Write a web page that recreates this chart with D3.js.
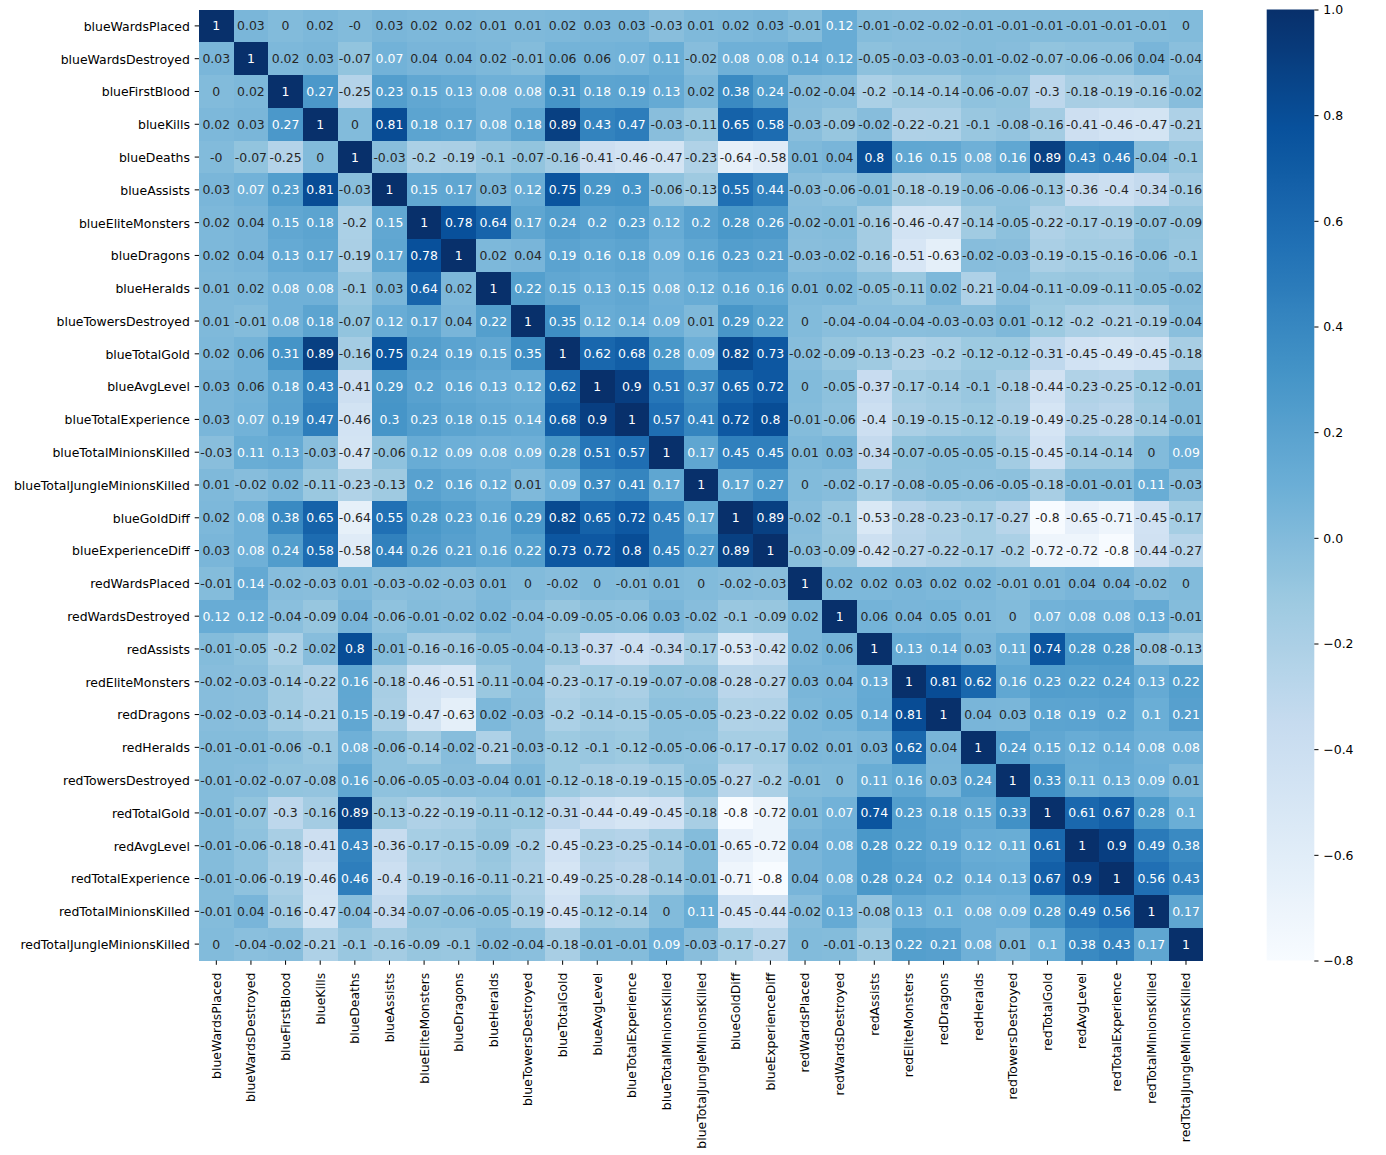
<!DOCTYPE html>
<html>
<head>
<meta charset="utf-8">
<script src="https://cdn.jsdelivr.net/npm/d3@7"></script>
<style>
  body { margin: 0; background: #fff; }
  text { font-family: "DejaVu Sans", sans-serif; }
</style>
</head>
<body>
<svg id="chart" width="1386" height="1155"></svg>
<script>
// ---------------- data ----------------
const variables = [
  "blueWardsPlaced", "blueWardsDestroyed", "blueFirstBlood", "blueKills", "blueDeaths",
  "blueAssists", "blueEliteMonsters", "blueDragons", "blueHeralds", "blueTowersDestroyed",
  "blueTotalGold", "blueAvgLevel", "blueTotalExperience", "blueTotalMinionsKilled",
  "blueTotalJungleMinionsKilled", "blueGoldDiff", "blueExperienceDiff", "redWardsPlaced",
  "redWardsDestroyed", "redAssists", "redEliteMonsters", "redDragons", "redHeralds",
  "redTowersDestroyed", "redTotalGold", "redAvgLevel", "redTotalExperience",
  "redTotalMinionsKilled", "redTotalJungleMinionsKilled"
];

const corrValues = [
  [1, 0.03, 0, 0.02, -0, 0.03, 0.02, 0.02, 0.01, 0.01, 0.02, 0.03, 0.03, -0.03, 0.01, 0.02, 0.03, -0.01, 0.12, -0.01, -0.02, -0.02, -0.01, -0.01, -0.01, -0.01, -0.01, -0.01, 0],
  [0.03, 1, 0.02, 0.03, -0.07, 0.07, 0.04, 0.04, 0.02, -0.01, 0.06, 0.06, 0.07, 0.11, -0.02, 0.08, 0.08, 0.14, 0.12, -0.05, -0.03, -0.03, -0.01, -0.02, -0.07, -0.06, -0.06, 0.04, -0.04],
  [0, 0.02, 1, 0.27, -0.25, 0.23, 0.15, 0.13, 0.08, 0.08, 0.31, 0.18, 0.19, 0.13, 0.02, 0.38, 0.24, -0.02, -0.04, -0.2, -0.14, -0.14, -0.06, -0.07, -0.3, -0.18, -0.19, -0.16, -0.02],
  [0.02, 0.03, 0.27, 1, 0, 0.81, 0.18, 0.17, 0.08, 0.18, 0.89, 0.43, 0.47, -0.03, -0.11, 0.65, 0.58, -0.03, -0.09, -0.02, -0.22, -0.21, -0.1, -0.08, -0.16, -0.41, -0.46, -0.47, -0.21],
  [-0, -0.07, -0.25, 0, 1, -0.03, -0.2, -0.19, -0.1, -0.07, -0.16, -0.41, -0.46, -0.47, -0.23, -0.64, -0.58, 0.01, 0.04, 0.8, 0.16, 0.15, 0.08, 0.16, 0.89, 0.43, 0.46, -0.04, -0.1],
  [0.03, 0.07, 0.23, 0.81, -0.03, 1, 0.15, 0.17, 0.03, 0.12, 0.75, 0.29, 0.3, -0.06, -0.13, 0.55, 0.44, -0.03, -0.06, -0.01, -0.18, -0.19, -0.06, -0.06, -0.13, -0.36, -0.4, -0.34, -0.16],
  [0.02, 0.04, 0.15, 0.18, -0.2, 0.15, 1, 0.78, 0.64, 0.17, 0.24, 0.2, 0.23, 0.12, 0.2, 0.28, 0.26, -0.02, -0.01, -0.16, -0.46, -0.47, -0.14, -0.05, -0.22, -0.17, -0.19, -0.07, -0.09],
  [0.02, 0.04, 0.13, 0.17, -0.19, 0.17, 0.78, 1, 0.02, 0.04, 0.19, 0.16, 0.18, 0.09, 0.16, 0.23, 0.21, -0.03, -0.02, -0.16, -0.51, -0.63, -0.02, -0.03, -0.19, -0.15, -0.16, -0.06, -0.1],
  [0.01, 0.02, 0.08, 0.08, -0.1, 0.03, 0.64, 0.02, 1, 0.22, 0.15, 0.13, 0.15, 0.08, 0.12, 0.16, 0.16, 0.01, 0.02, -0.05, -0.11, 0.02, -0.21, -0.04, -0.11, -0.09, -0.11, -0.05, -0.02],
  [0.01, -0.01, 0.08, 0.18, -0.07, 0.12, 0.17, 0.04, 0.22, 1, 0.35, 0.12, 0.14, 0.09, 0.01, 0.29, 0.22, 0, -0.04, -0.04, -0.04, -0.03, -0.03, 0.01, -0.12, -0.2, -0.21, -0.19, -0.04],
  [0.02, 0.06, 0.31, 0.89, -0.16, 0.75, 0.24, 0.19, 0.15, 0.35, 1, 0.62, 0.68, 0.28, 0.09, 0.82, 0.73, -0.02, -0.09, -0.13, -0.23, -0.2, -0.12, -0.12, -0.31, -0.45, -0.49, -0.45, -0.18],
  [0.03, 0.06, 0.18, 0.43, -0.41, 0.29, 0.2, 0.16, 0.13, 0.12, 0.62, 1, 0.9, 0.51, 0.37, 0.65, 0.72, 0, -0.05, -0.37, -0.17, -0.14, -0.1, -0.18, -0.44, -0.23, -0.25, -0.12, -0.01],
  [0.03, 0.07, 0.19, 0.47, -0.46, 0.3, 0.23, 0.18, 0.15, 0.14, 0.68, 0.9, 1, 0.57, 0.41, 0.72, 0.8, -0.01, -0.06, -0.4, -0.19, -0.15, -0.12, -0.19, -0.49, -0.25, -0.28, -0.14, -0.01],
  [-0.03, 0.11, 0.13, -0.03, -0.47, -0.06, 0.12, 0.09, 0.08, 0.09, 0.28, 0.51, 0.57, 1, 0.17, 0.45, 0.45, 0.01, 0.03, -0.34, -0.07, -0.05, -0.05, -0.15, -0.45, -0.14, -0.14, 0, 0.09],
  [0.01, -0.02, 0.02, -0.11, -0.23, -0.13, 0.2, 0.16, 0.12, 0.01, 0.09, 0.37, 0.41, 0.17, 1, 0.17, 0.27, 0, -0.02, -0.17, -0.08, -0.05, -0.06, -0.05, -0.18, -0.01, -0.01, 0.11, -0.03],
  [0.02, 0.08, 0.38, 0.65, -0.64, 0.55, 0.28, 0.23, 0.16, 0.29, 0.82, 0.65, 0.72, 0.45, 0.17, 1, 0.89, -0.02, -0.1, -0.53, -0.28, -0.23, -0.17, -0.27, -0.8, -0.65, -0.71, -0.45, -0.17],
  [0.03, 0.08, 0.24, 0.58, -0.58, 0.44, 0.26, 0.21, 0.16, 0.22, 0.73, 0.72, 0.8, 0.45, 0.27, 0.89, 1, -0.03, -0.09, -0.42, -0.27, -0.22, -0.17, -0.2, -0.72, -0.72, -0.8, -0.44, -0.27],
  [-0.01, 0.14, -0.02, -0.03, 0.01, -0.03, -0.02, -0.03, 0.01, 0, -0.02, 0, -0.01, 0.01, 0, -0.02, -0.03, 1, 0.02, 0.02, 0.03, 0.02, 0.02, -0.01, 0.01, 0.04, 0.04, -0.02, 0],
  [0.12, 0.12, -0.04, -0.09, 0.04, -0.06, -0.01, -0.02, 0.02, -0.04, -0.09, -0.05, -0.06, 0.03, -0.02, -0.1, -0.09, 0.02, 1, 0.06, 0.04, 0.05, 0.01, 0, 0.07, 0.08, 0.08, 0.13, -0.01],
  [-0.01, -0.05, -0.2, -0.02, 0.8, -0.01, -0.16, -0.16, -0.05, -0.04, -0.13, -0.37, -0.4, -0.34, -0.17, -0.53, -0.42, 0.02, 0.06, 1, 0.13, 0.14, 0.03, 0.11, 0.74, 0.28, 0.28, -0.08, -0.13],
  [-0.02, -0.03, -0.14, -0.22, 0.16, -0.18, -0.46, -0.51, -0.11, -0.04, -0.23, -0.17, -0.19, -0.07, -0.08, -0.28, -0.27, 0.03, 0.04, 0.13, 1, 0.81, 0.62, 0.16, 0.23, 0.22, 0.24, 0.13, 0.22],
  [-0.02, -0.03, -0.14, -0.21, 0.15, -0.19, -0.47, -0.63, 0.02, -0.03, -0.2, -0.14, -0.15, -0.05, -0.05, -0.23, -0.22, 0.02, 0.05, 0.14, 0.81, 1, 0.04, 0.03, 0.18, 0.19, 0.2, 0.1, 0.21],
  [-0.01, -0.01, -0.06, -0.1, 0.08, -0.06, -0.14, -0.02, -0.21, -0.03, -0.12, -0.1, -0.12, -0.05, -0.06, -0.17, -0.17, 0.02, 0.01, 0.03, 0.62, 0.04, 1, 0.24, 0.15, 0.12, 0.14, 0.08, 0.08],
  [-0.01, -0.02, -0.07, -0.08, 0.16, -0.06, -0.05, -0.03, -0.04, 0.01, -0.12, -0.18, -0.19, -0.15, -0.05, -0.27, -0.2, -0.01, 0, 0.11, 0.16, 0.03, 0.24, 1, 0.33, 0.11, 0.13, 0.09, 0.01],
  [-0.01, -0.07, -0.3, -0.16, 0.89, -0.13, -0.22, -0.19, -0.11, -0.12, -0.31, -0.44, -0.49, -0.45, -0.18, -0.8, -0.72, 0.01, 0.07, 0.74, 0.23, 0.18, 0.15, 0.33, 1, 0.61, 0.67, 0.28, 0.1],
  [-0.01, -0.06, -0.18, -0.41, 0.43, -0.36, -0.17, -0.15, -0.09, -0.2, -0.45, -0.23, -0.25, -0.14, -0.01, -0.65, -0.72, 0.04, 0.08, 0.28, 0.22, 0.19, 0.12, 0.11, 0.61, 1, 0.9, 0.49, 0.38],
  [-0.01, -0.06, -0.19, -0.46, 0.46, -0.4, -0.19, -0.16, -0.11, -0.21, -0.49, -0.25, -0.28, -0.14, -0.01, -0.71, -0.8, 0.04, 0.08, 0.28, 0.24, 0.2, 0.14, 0.13, 0.67, 0.9, 1, 0.56, 0.43],
  [-0.01, 0.04, -0.16, -0.47, -0.04, -0.34, -0.07, -0.06, -0.05, -0.19, -0.45, -0.12, -0.14, 0, 0.11, -0.45, -0.44, -0.02, 0.13, -0.08, 0.13, 0.1, 0.08, 0.09, 0.28, 0.49, 0.56, 1, 0.17],
  [0, -0.04, -0.02, -0.21, -0.1, -0.16, -0.09, -0.1, -0.02, -0.04, -0.18, -0.01, -0.01, 0.09, -0.03, -0.17, -0.27, 0, -0.01, -0.13, 0.22, 0.21, 0.08, 0.01, 0.1, 0.38, 0.43, 0.17, 1]
];

const colorbarTicks = [-0.8, -0.6, -0.4, -0.2, 0.0, 0.2, 0.4, 0.6, 0.8, 1.0];
const bluesColors = ["#f7fbff", "#deebf7", "#c6dbef", "#9ecae1", "#6baed6", "#4292c6", "#2171b5", "#08519c", "#08306b"];
const colorRange = [-0.8, 1.0];

// ---------------- layout ----------------
const grid = { left: 199, right: 1203.3, top: 9.5, bottom: 960.5 };
const cbar = { left: 1266.7, right: 1314.3, top: 9.5, bottom: 960.5 };
const FS = 12.45;
const darkText = "#262626";

const svg = d3.select("#chart");

const x = d3.scaleBand().domain(variables).range([grid.left, grid.right]);
const y = d3.scaleBand().domain(variables).range([grid.top, grid.bottom]);

// matplotlib-like Blues colormap (256-entry LUT, linear segments)
const cmap = d3.scaleLinear()
  .domain(bluesColors.map((_, i) => i / (bluesColors.length - 1)))
  .range(bluesColors)
  .interpolate(d3.interpolateRgb);
const norm = d3.scaleLinear().domain(colorRange).range([0, 1]).clamp(true);
function color(v) {
  const idx = Math.min(255, Math.floor(norm(v) * 256));
  return cmap(idx / 255);
}
function luminance(c) {
  const rgb = d3.rgb(c);
  const lin = [rgb.r, rgb.g, rgb.b].map(u => {
    u = u / 255;
    return u <= 0.03928 ? u / 12.92 : Math.pow((u + 0.055) / 1.055, 2.4);
  });
  return 0.2126 * lin[0] + 0.7152 * lin[1] + 0.0722 * lin[2];
}
function fmt(v) {
  return Object.is(v, -0) ? "-0" : String(v);
}

const cells = corrValues.flatMap((row, i) =>
  row.map((v, j) => ({ r: variables[i], c: variables[j], v })));

// cells
svg.append("g")
  .selectAll("rect")
  .data(cells)
  .join("rect")
  .attr("x", d => x(d.c))
  .attr("y", d => y(d.r))
  .attr("width", x.bandwidth())
  .attr("height", y.bandwidth())
  .attr("fill", d => color(d.v))
  .attr("shape-rendering", "crispEdges");

// annotations
svg.append("g")
  .selectAll("text")
  .data(cells)
  .join("text")
  .attr("x", d => x(d.c) + x.bandwidth() / 2)
  .attr("y", d => y(d.r) + y.bandwidth() / 2)
  .attr("dy", "0.36em")
  .attr("text-anchor", "middle")
  .attr("font-size", FS)
  .attr("fill", d => luminance(color(d.v)) > 0.408 ? darkText : "#ffffff")
  .text(d => fmt(d.v));

// y axis
const yAxis = svg.append("g")
  .attr("transform", `translate(${grid.left},0)`)
  .call(d3.axisLeft(y).tickSize(4.3).tickPadding(4.8));
yAxis.select(".domain").remove();
yAxis.selectAll(".tick line").attr("stroke", "#000").attr("stroke-width", 1);
yAxis.selectAll(".tick text")
  .attr("font-size", FS)
  .attr("font-family", "DejaVu Sans, sans-serif")
  .attr("fill", "#000")
  .attr("dy", "0.39em");

// x axis
const xAxis = svg.append("g")
  .attr("transform", `translate(0,${grid.bottom})`)
  .call(d3.axisBottom(x).tickSize(4.3));
xAxis.select(".domain").remove();
xAxis.selectAll(".tick line").attr("stroke", "#000").attr("stroke-width", 1);
xAxis.selectAll(".tick text")
  .attr("font-size", FS)
  .attr("font-family", "DejaVu Sans, sans-serif")
  .attr("fill", "#000")
  .attr("text-anchor", "end")
  .attr("transform", "rotate(-90)")
  .attr("x", -12.2)
  .attr("y", 4.4)
  .attr("dy", 0);

// colorbar
const cScale = d3.scaleLinear().domain(colorRange).range([cbar.bottom, cbar.top]);
const defs = svg.append("defs");
const grad = defs.append("linearGradient")
  .attr("id", "cbarGrad")
  .attr("x1", 0).attr("y1", 1).attr("x2", 0).attr("y2", 0);
grad.selectAll("stop")
  .data(d3.range(0, 65).map(i => i / 64))
  .join("stop")
  .attr("offset", d => d)
  .attr("stop-color", d => cmap(d));

svg.append("rect")
  .attr("x", cbar.left)
  .attr("y", cScale(colorRange[1]))
  .attr("width", cbar.right - cbar.left)
  .attr("height", cScale(colorRange[0]) - cScale(colorRange[1]))
  .attr("fill", "url(#cbarGrad)");

const cAxis = svg.append("g")
  .attr("transform", `translate(${cbar.right},0)`)
  .call(d3.axisRight(cScale).tickValues(colorbarTicks).tickFormat(d3.format(".1f")).tickSize(4.2).tickPadding(4.8));
cAxis.select(".domain").remove();
cAxis.selectAll(".tick line").attr("stroke", "#000").attr("stroke-width", 1);
cAxis.selectAll(".tick text")
  .attr("font-size", FS)
  .attr("font-family", "DejaVu Sans, sans-serif")
  .attr("fill", "#000")
  .attr("dy", "0.36em");
</script>
</body>
</html>
